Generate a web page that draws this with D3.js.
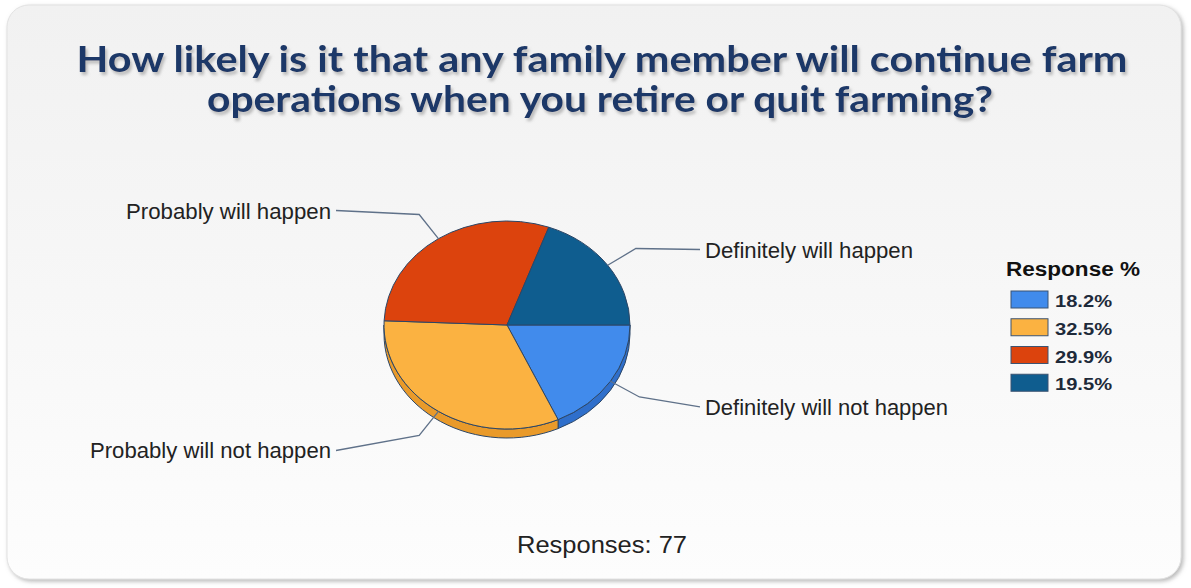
<!DOCTYPE html>
<html>
<head>
<meta charset="utf-8">
<script src="https://cdn.jsdelivr.net/npm/d3@7/dist/d3.min.js"></script>
<style>
  html, body { margin: 0; padding: 0; background: #ffffff; }
  svg { display: block; }
</style>
</head>
<body>
<svg id="chart" width="1191" height="588"></svg>
<script>
// Survey answers, in drawing order (clockwise from 3 o'clock)
const categories = [
  "Definitely will not happen",
  "Probably will not happen",
  "Probably will happen",
  "Definitely will happen"
];
const percents = [18.2, 32.5, 29.9, 19.5];
const legendLabels = ["18.2%", "32.5%", "29.9%", "19.5%"];
const titleLines = [
  "How likely is it that any family member will continue farm",
  "operations when you retire or quit farming?"
];
const legendTitle = "Response %";
const responseCount = 77;

// Slice colours (top face and darker rim)
const topColors = ["#418bec", "#fbb241", "#dc430d", "#0f5d8f"];
const rimColors = ["#2f6fcb", "#e99a2a", "#b9360a", "#0b4a73"];

const W = 1191, H = 588;
const svg = d3.select("#chart");
const defs = svg.append("defs");

// Panel background gradient + soft shadow
const grad = defs.append("linearGradient")
  .attr("id", "panelGrad").attr("x1", 0).attr("y1", 0).attr("x2", 0).attr("y2", 1);
grad.append("stop").attr("offset", "0%").attr("stop-color", "#f1f1f1");
grad.append("stop").attr("offset", "100%").attr("stop-color", "#fdfdfd");

const panelShadow = defs.append("filter").attr("id", "panelShadow")
  .attr("x", "-5%").attr("y", "-5%").attr("width", "110%").attr("height", "110%");
panelShadow.append("feDropShadow")
  .attr("dx", 2).attr("dy", 2).attr("stdDeviation", 2)
  .attr("flood-color", "#9a9a9a").attr("flood-opacity", 0.7);

const titleShadow = defs.append("filter").attr("id", "titleShadow")
  .attr("x", "-5%").attr("y", "-30%").attr("width", "110%").attr("height", "160%");
titleShadow.append("feDropShadow")
  .attr("dx", 2).attr("dy", 3).attr("stdDeviation", 1.6)
  .attr("flood-color", "#8c8c8c").attr("flood-opacity", 0.55);

svg.append("rect")
  .attr("x", 7).attr("y", 5).attr("width", 1174).attr("height", 574)
  .attr("rx", 22).attr("ry", 22)
  .attr("fill", "url(#panelGrad)")
  .attr("stroke", "#e2e2e2").attr("stroke-width", 1)
  .attr("filter", "url(#panelShadow)");

// Title
const titleSpec = [
  { y: 72, cx: 602, len: 1051 },
  { y: 112, cx: 600, len: 786 }
];
svg.append("g").attr("filter", "url(#titleShadow)")
  .selectAll("text").data(titleLines).join("text")
  .attr("x", (d, i) => titleSpec[i].cx)
  .attr("y", (d, i) => titleSpec[i].y)
  .attr("text-anchor", "middle")
  .attr("textLength", (d, i) => titleSpec[i].len)
  .attr("lengthAdjust", "spacingAndGlyphs")
  .attr("font-family", "Lato, 'DejaVu Sans', sans-serif")
  .attr("font-weight", 700)
  .attr("font-size", 36)
  .attr("fill", "#1d3867")
  .text(d => d);

// Pie geometry: a tilted disc (ellipse) with a rim on the front half
const cx = 507, cy = 325, rx = 123, ry = 104, depth = 9;
const squash = ry / rx;

const pie = d3.pie().sort(null).value(d => d)
  .startAngle(Math.PI / 2).endAngle(Math.PI / 2 + 2 * Math.PI);
const arcs = pie(percents);

// point on the top ellipse at d3 angle t (0 = 12 o'clock, clockwise)
const pt = (t, k = 1) => [cx + rx * k * Math.sin(t), cy - ry * k * Math.cos(t)];

// Rim walls: only the part between 3 o'clock and 9 o'clock faces the viewer
const rimG = svg.append("g");
arcs.forEach((a, i) => {
  const t0 = Math.max(a.startAngle, Math.PI / 2);
  const t1 = Math.min(a.endAngle, 3 * Math.PI / 2);
  if (t1 <= t0) return;
  const p0 = pt(t0), p1 = pt(t1);
  const large = (t1 - t0) > Math.PI ? 1 : 0;
  const d = `M${p0[0]},${p0[1]}` +
    `A${rx},${ry} 0 ${large} 1 ${p1[0]},${p1[1]}` +
    `L${p1[0]},${p1[1] + depth}` +
    `A${rx},${ry} 0 ${large} 0 ${p0[0]},${p0[1] + depth}Z`;
  rimG.append("path")
    .attr("d", d)
    .attr("fill", rimColors[i])
    .attr("stroke", "#2c4666").attr("stroke-width", 1)
    .attr("stroke-linejoin", "round");
});

// Top faces
const arcGen = d3.arc().innerRadius(0).outerRadius(rx);
svg.append("g")
  .attr("transform", `translate(${cx},${cy}) scale(1,${squash})`)
  .selectAll("path").data(arcs).join("path")
  .attr("d", arcGen)
  .attr("fill", (d, i) => topColors[i])
  .attr("stroke", "#2c4666")
  .attr("stroke-width", 1)
  .attr("vector-effect", "non-scaling-stroke")
  .attr("stroke-linejoin", "round");

// Leader lines and category labels
const labelNudge = [10, 15, -4, 1];
const rightEnd = 700, leftEnd = 336;
const lblG = svg.append("g");
arcs.forEach((a, i) => {
  const mid = (a.startAngle + a.endAngle) / 2;
  const p0 = pt(mid, 1.0);
  const p1 = pt(mid, 1.28);
  const right = Math.sin(mid) > 0;
  const ex = right ? rightEnd : leftEnd;
  const ey = p1[1] + labelNudge[i];
  lblG.append("polyline")
    .attr("points", [p0, p1, [ex, ey]].map(p => p.join(",")).join(" "))
    .attr("fill", "none")
    .attr("stroke", "#5f7189")
    .attr("stroke-width", 1.3);
  lblG.append("text")
    .attr("x", right ? ex + 5 : ex - 5)
    .attr("y", ey + 8)
    .attr("text-anchor", right ? "start" : "end")
    .attr("font-family", "'Liberation Sans', Arial, sans-serif")
    .attr("font-size", 22)
    .attr("fill", "#222")
    .attr("textLength", [243, 241, 205, 208][i])
    .attr("lengthAdjust", "spacingAndGlyphs")
    .text(categories[i]);
});

// Legend
const legend = svg.append("g");
legend.append("text")
  .attr("x", 1006).attr("y", 276)
  .attr("font-family", "'Liberation Sans', Arial, sans-serif")
  .attr("font-weight", 700).attr("font-size", 20)
  .attr("textLength", 134).attr("lengthAdjust", "spacingAndGlyphs")
  .attr("fill", "#111")
  .text(legendTitle);

const rowY = d3.scaleBand().domain(d3.range(legendLabels.length)).range([287, 398]);
const rows = legend.selectAll("g.row").data(legendLabels).join("g")
  .attr("class", "row")
  .attr("transform", (d, i) => `translate(0,${rowY(i)})`);
rows.append("rect")
  .attr("x", 1011).attr("y", 4).attr("width", 37).attr("height", 17)
  .attr("fill", (d, i) => topColors[i])
  .attr("stroke", "#3b5372").attr("stroke-width", 1);
rows.append("text")
  .attr("x", 1055).attr("y", 20)
  .attr("font-family", "'Liberation Sans', Arial, sans-serif")
  .attr("font-weight", 700).attr("font-size", 17)
  .attr("textLength", 57).attr("lengthAdjust", "spacingAndGlyphs")
  .attr("fill", "#1e2a3a")
  .text(d => d);

// Response count footer
svg.append("text")
  .attr("x", 602).attr("y", 553)
  .attr("text-anchor", "middle")
  .attr("font-family", "'Liberation Sans', Arial, sans-serif")
  .attr("font-size", 24)
  .attr("textLength", 170).attr("lengthAdjust", "spacingAndGlyphs")
  .attr("fill", "#222")
  .text(`Responses: ${responseCount}`);
</script>
</body>
</html>
